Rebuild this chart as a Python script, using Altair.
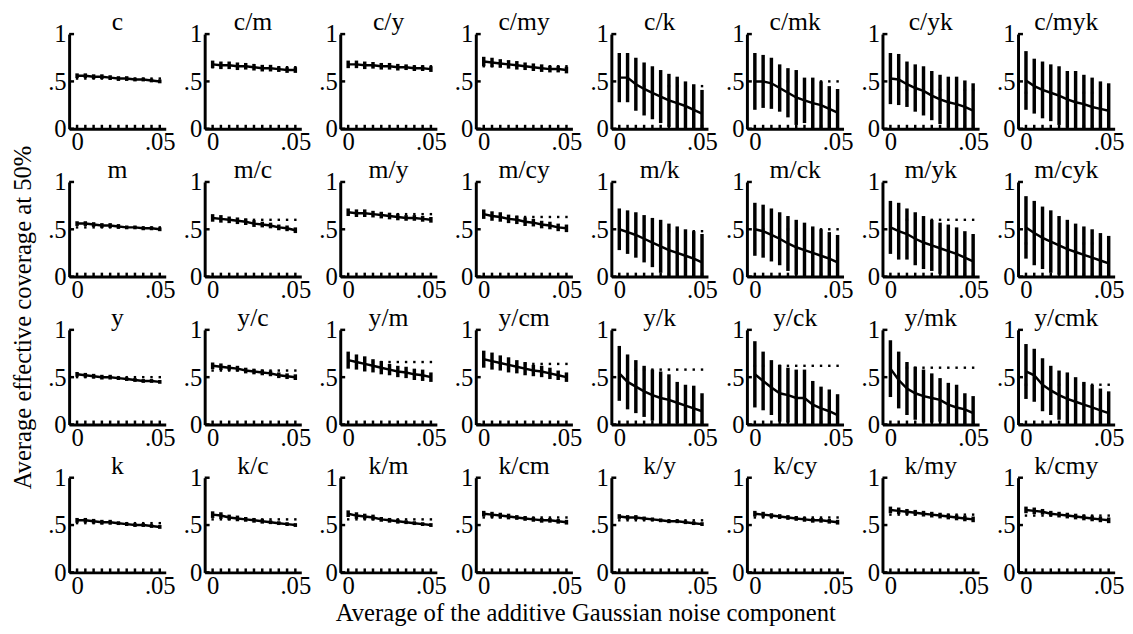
import altair as alt
import pandas as pd

# ---------------- data ----------------
X = [0.000, 0.005, 0.010, 0.015, 0.020, 0.025, 0.030, 0.035, 0.040, 0.045, 0.050]

PANELS = [
    "c", "c/m", "c/y", "c/my", "c/k", "c/mk", "c/yk", "c/myk",
    "m", "m/c", "m/y", "m/cy", "m/k", "m/ck", "m/yk", "m/cyk",
    "y", "y/c", "y/m", "y/cm", "y/k", "y/ck", "y/mk", "y/cmk",
    "k", "k/c", "k/m", "k/cm", "k/y", "k/cy", "k/my", "k/cmy",
]

MEAN = {
    "c":     [0.56, 0.56, 0.55, 0.55, 0.54, 0.53, 0.53, 0.52, 0.52, 0.51, 0.50],
    "c/m":   [0.68, 0.67, 0.67, 0.66, 0.66, 0.65, 0.64, 0.64, 0.63, 0.62, 0.62],
    "c/y":   [0.68, 0.68, 0.67, 0.67, 0.66, 0.66, 0.65, 0.65, 0.64, 0.64, 0.63],
    "c/my":  [0.71, 0.70, 0.69, 0.68, 0.67, 0.66, 0.65, 0.64, 0.63, 0.63, 0.62],
    "c/k":   [0.54, 0.54, 0.47, 0.42, 0.38, 0.34, 0.30, 0.27, 0.24, 0.20, 0.16],
    "c/mk":  [0.50, 0.50, 0.48, 0.43, 0.38, 0.33, 0.30, 0.27, 0.25, 0.21, 0.17],
    "c/yk":  [0.53, 0.52, 0.47, 0.43, 0.40, 0.35, 0.31, 0.28, 0.26, 0.23, 0.19],
    "c/myk": [0.51, 0.45, 0.41, 0.38, 0.35, 0.31, 0.28, 0.26, 0.23, 0.21, 0.19],
    "m":     [0.56, 0.56, 0.55, 0.54, 0.54, 0.53, 0.52, 0.52, 0.51, 0.51, 0.50],
    "m/c":   [0.62, 0.61, 0.60, 0.59, 0.58, 0.56, 0.55, 0.54, 0.52, 0.51, 0.49],
    "m/y":   [0.68, 0.67, 0.67, 0.66, 0.65, 0.64, 0.63, 0.62, 0.62, 0.61, 0.60],
    "m/cy":  [0.66, 0.64, 0.63, 0.61, 0.60, 0.58, 0.57, 0.55, 0.54, 0.52, 0.51],
    "m/k":   [0.50, 0.47, 0.44, 0.40, 0.36, 0.32, 0.28, 0.25, 0.22, 0.19, 0.15],
    "m/ck":  [0.50, 0.48, 0.44, 0.40, 0.35, 0.31, 0.28, 0.25, 0.22, 0.19, 0.15],
    "m/yk":  [0.52, 0.48, 0.45, 0.40, 0.36, 0.33, 0.30, 0.27, 0.24, 0.20, 0.16],
    "m/cyk": [0.52, 0.46, 0.41, 0.37, 0.33, 0.29, 0.26, 0.23, 0.20, 0.17, 0.14],
    "y":     [0.53, 0.52, 0.51, 0.50, 0.50, 0.49, 0.48, 0.47, 0.46, 0.46, 0.45],
    "y/c":   [0.62, 0.61, 0.60, 0.59, 0.57, 0.56, 0.55, 0.54, 0.52, 0.51, 0.50],
    "y/m":   [0.68, 0.66, 0.64, 0.62, 0.60, 0.58, 0.56, 0.55, 0.53, 0.52, 0.50],
    "y/cm":  [0.69, 0.67, 0.65, 0.63, 0.61, 0.59, 0.57, 0.56, 0.54, 0.52, 0.50],
    "y/k":   [0.54, 0.45, 0.40, 0.35, 0.31, 0.28, 0.26, 0.23, 0.20, 0.17, 0.14],
    "y/ck":  [0.53, 0.46, 0.39, 0.33, 0.31, 0.28, 0.28, 0.21, 0.17, 0.14, 0.10],
    "y/mk":  [0.59, 0.47, 0.38, 0.33, 0.30, 0.28, 0.26, 0.21, 0.18, 0.16, 0.12],
    "y/cmk": [0.56, 0.52, 0.42, 0.36, 0.31, 0.27, 0.24, 0.21, 0.18, 0.15, 0.12],
    "k":     [0.55, 0.55, 0.54, 0.53, 0.53, 0.52, 0.51, 0.50, 0.50, 0.49, 0.48],
    "k/c":   [0.61, 0.60, 0.58, 0.57, 0.56, 0.55, 0.54, 0.53, 0.52, 0.51, 0.50],
    "k/m":   [0.62, 0.60, 0.59, 0.58, 0.56, 0.55, 0.54, 0.53, 0.52, 0.51, 0.50],
    "k/cm":  [0.62, 0.61, 0.60, 0.59, 0.58, 0.57, 0.56, 0.55, 0.55, 0.54, 0.53],
    "k/y":   [0.59, 0.58, 0.58, 0.57, 0.56, 0.55, 0.54, 0.54, 0.53, 0.52, 0.51],
    "k/cy":  [0.62, 0.61, 0.60, 0.59, 0.58, 0.57, 0.56, 0.55, 0.55, 0.54, 0.53],
    "k/my":  [0.66, 0.65, 0.64, 0.63, 0.62, 0.61, 0.60, 0.59, 0.58, 0.57, 0.56],
    "k/cmy": [0.66, 0.65, 0.64, 0.62, 0.61, 0.60, 0.59, 0.58, 0.57, 0.56, 0.55],
}

ERR = {
    "c":     [0.025, 0.025, 0.025, 0.025, 0.025, 0.025, 0.025, 0.020, 0.020, 0.020, 0.020],
    "c/m":   [0.040, 0.040, 0.040, 0.040, 0.035, 0.035, 0.035, 0.035, 0.030, 0.030, 0.030],
    "c/y":   [0.040, 0.040, 0.040, 0.035, 0.035, 0.035, 0.035, 0.030, 0.030, 0.030, 0.030],
    "c/my":  [0.050, 0.050, 0.045, 0.045, 0.045, 0.040, 0.040, 0.040, 0.035, 0.035, 0.035],
    "c/k":   [0.26, 0.26, 0.28, 0.28, 0.28, 0.28, 0.28, 0.28, 0.26, 0.27, 0.25],
    "c/mk":  [0.30, 0.28, 0.27, 0.25, 0.26, 0.29, 0.24, 0.27, 0.25, 0.24, 0.25],
    "c/yk":  [0.27, 0.27, 0.24, 0.25, 0.26, 0.26, 0.26, 0.27, 0.29, 0.28, 0.29],
    "c/myk": [0.31, 0.29, 0.30, 0.30, 0.31, 0.30, 0.33, 0.31, 0.31, 0.29, 0.29],
    "m":     [0.025, 0.025, 0.025, 0.025, 0.025, 0.025, 0.020, 0.020, 0.020, 0.020, 0.020],
    "m/c":   [0.040, 0.040, 0.035, 0.035, 0.035, 0.035, 0.030, 0.030, 0.030, 0.030, 0.030],
    "m/y":   [0.040, 0.040, 0.040, 0.035, 0.035, 0.035, 0.035, 0.030, 0.030, 0.030, 0.030],
    "m/cy":  [0.050, 0.050, 0.050, 0.045, 0.045, 0.045, 0.040, 0.040, 0.040, 0.040, 0.040],
    "m/k":   [0.22, 0.23, 0.24, 0.25, 0.26, 0.28, 0.28, 0.28, 0.28, 0.29, 0.30],
    "m/ck":  [0.28, 0.28, 0.28, 0.28, 0.29, 0.29, 0.29, 0.28, 0.28, 0.28, 0.29],
    "m/yk":  [0.28, 0.30, 0.27, 0.28, 0.28, 0.27, 0.27, 0.28, 0.28, 0.28, 0.29],
    "m/cyk": [0.33, 0.34, 0.33, 0.33, 0.31, 0.31, 0.30, 0.30, 0.30, 0.29, 0.29],
    "y":     [0.025, 0.025, 0.025, 0.025, 0.025, 0.020, 0.020, 0.020, 0.020, 0.020, 0.020],
    "y/c":   [0.035, 0.035, 0.030, 0.030, 0.030, 0.030, 0.030, 0.030, 0.030, 0.030, 0.030],
    "y/m":   [0.090, 0.080, 0.080, 0.070, 0.070, 0.060, 0.060, 0.060, 0.060, 0.060, 0.050],
    "y/cm":  [0.090, 0.090, 0.080, 0.080, 0.070, 0.070, 0.060, 0.060, 0.060, 0.050, 0.050],
    "y/k":   [0.29, 0.29, 0.28, 0.27, 0.27, 0.28, 0.27, 0.22, 0.22, 0.24, 0.19],
    "y/ck":  [0.35, 0.31, 0.29, 0.30, 0.29, 0.30, 0.30, 0.25, 0.23, 0.23, 0.22],
    "y/mk":  [0.30, 0.30, 0.28, 0.28, 0.28, 0.26, 0.23, 0.23, 0.24, 0.17, 0.18],
    "y/cmk": [0.29, 0.28, 0.28, 0.26, 0.26, 0.28, 0.26, 0.24, 0.24, 0.23, 0.23],
    "k":     [0.025, 0.025, 0.025, 0.025, 0.025, 0.020, 0.020, 0.020, 0.020, 0.020, 0.020],
    "k/c":   [0.035, 0.035, 0.030, 0.030, 0.025, 0.025, 0.025, 0.020, 0.020, 0.020, 0.020],
    "k/m":   [0.035, 0.035, 0.030, 0.030, 0.025, 0.025, 0.025, 0.020, 0.020, 0.020, 0.020],
    "k/cm":  [0.030, 0.030, 0.030, 0.030, 0.025, 0.025, 0.025, 0.025, 0.025, 0.025, 0.025],
    "k/y":   [0.025, 0.025, 0.025, 0.020, 0.020, 0.020, 0.020, 0.020, 0.020, 0.020, 0.020],
    "k/cy":  [0.030, 0.030, 0.025, 0.025, 0.025, 0.025, 0.025, 0.025, 0.025, 0.025, 0.025],
    "k/my":  [0.035, 0.035, 0.030, 0.030, 0.030, 0.030, 0.030, 0.030, 0.030, 0.030, 0.030],
    "k/cmy": [0.035, 0.035, 0.030, 0.030, 0.030, 0.030, 0.030, 0.030, 0.030, 0.030, 0.030],
}

REF = {
    "c": 0.53, "c/m": 0.65, "c/y": 0.66, "c/my": 0.66,
    "c/k": 0.45, "c/mk": 0.50, "c/yk": 0.41, "c/myk": 0.38,
    "m": 0.52, "m/c": 0.60, "m/y": 0.66, "m/cy": 0.63,
    "m/k": 0.48, "m/ck": 0.50, "m/yk": 0.60, "m/cyk": 0.35,
    "y": 0.50, "y/c": 0.57, "y/m": 0.66, "y/cm": 0.64,
    "y/k": 0.58, "y/ck": 0.62, "y/mk": 0.60, "y/cmk": 0.42,
    "k": 0.52, "k/c": 0.56, "k/m": 0.56, "k/cm": 0.58,
    "k/y": 0.55, "k/cy": 0.58, "k/my": 0.61, "k/cmy": 0.60,
}

Y_TICKS = [0, 0.5, 1]
X_LABELS = [0, 0.05]
X_TITLE = "Average of the additive Gaussian noise component"
Y_TITLE = "Average effective coverage at 50%"

# ---------------- styling ----------------
FONT = "Liberation Serif"
W, H = 98, 96
XSCALE = alt.Scale(domain=[-0.0048, 0.0536], nice=False, zero=False)
YSCALE = alt.Scale(domain=[0, 1], nice=False)


def panel(name):
    df = pd.DataFrame({"x": X, "mean": MEAN[name], "err": ERR[name]})
    df["ref"] = REF[name]
    base = alt.Chart(df).transform_calculate(
        lo="max(0, datum.mean - datum.err)",
        hi="min(1, datum.mean + datum.err)",
    )
    xaxis = alt.Axis(
        values=X_LABELS, title=None, ticks=False, grid=False,
        labelExpr="replace(format(datum.value, '.2~f'), '0.', '.')",
        domainWidth=3, domainColor="black", labelFont=FONT, labelFontSize=25,
        labelColor="black", labelPadding=1, labelFlush=False,
    )
    yaxis = alt.Axis(
        values=Y_TICKS, title=None, ticks=False, grid=False,
        labelExpr="replace(format(datum.value, '.1~f'), '0.', '.')",
        domainWidth=3, domainColor="black", labelFont=FONT, labelFontSize=25,
        labelColor="black", labelPadding=3,
    )
    dots = base.mark_square(size=6, color="black", opacity=1).encode(
        x=alt.X("x:Q", scale=XSCALE, axis=xaxis),
        y=alt.Y("ref:Q", scale=YSCALE, axis=yaxis),
    )
    bars = base.mark_rule(strokeWidth=3.5, color="black").encode(
        x="x:Q", y="lo:Q", y2="hi:Q"
    )
    line = base.mark_line(strokeWidth=2.5, color="black").encode(x="x:Q", y="mean:Q")
    xticks = base.mark_rule(strokeWidth=2.5, color="black").encode(
        x="x:Q", y=alt.value(H), y2=alt.value(H - 4)
    )
    yticks = alt.Chart(pd.DataFrame({"v": Y_TICKS})).mark_rule(
        strokeWidth=2.5, color="black"
    ).encode(x=alt.value(0), x2=alt.value(5), y=alt.Y("v:Q", scale=YSCALE))
    title = alt.Chart(pd.DataFrame({"t": [name]})).mark_text(
        font=FONT, fontSize=26, baseline="alphabetic", align="center", color="black"
    ).encode(text="t:N", x=alt.value(W / 2), y=alt.value(-4))
    return alt.layer(dots, bars, line, xticks, yticks, title).properties(
        width=W, height=H
    )


grid = alt.concat(
    *[panel(p) for p in PANELS], columns=8, spacing={"row": 54, "column": 39.5},
    bounds="flush",
).properties(
    title=alt.TitleParams(
        X_TITLE, orient="bottom", font=FONT, fontSize=25, fontWeight="normal",
        color="black", anchor="middle", offset=3,
    )
)

chart = alt.hconcat(grid).properties(
    title=alt.TitleParams(
        Y_TITLE, orient="left", font=FONT, fontSize=25, fontWeight="normal",
        color="black", anchor="middle", offset=12,
    ),
    padding={"left": 3, "top": -3, "right": 0, "bottom": 0},
    background="white",
).configure_view(stroke=None)

chart.save("out.html", embed_options={"renderer": "svg", "actions": False})
